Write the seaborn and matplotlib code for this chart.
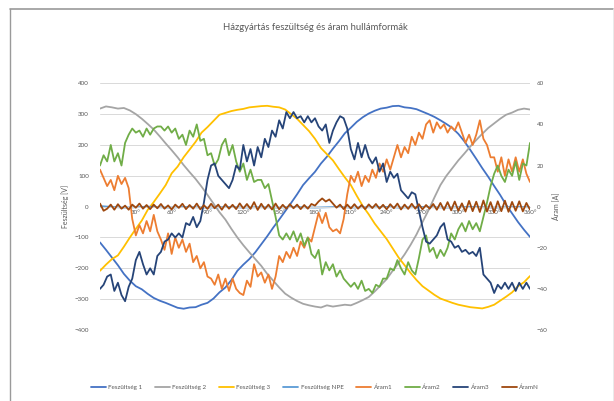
import numpy as np
import pandas as pd
import matplotlib
matplotlib.use("Agg")
import matplotlib.pyplot as plt
from matplotlib.lines import Line2D
import seaborn as sns

# Phase angle grids (degrees)
angle_v = np.arange(0, 361, 5)
angle_i = np.arange(0, 361, 3)
angle_n = np.arange(0, 361, 10)

# Voltages [V]
feszultseg_1 = [-116, -140, -165, -190, -218, -240, -258, -268, -283, -296, -305, -312, -320, -328, -331,
                -327, -326, -318, -312, -298, -278, -262, -238, -208, -188, -170, -148, -122, -96, -68,
                -42, -15, 12, 40, 70, 92, 113, 140, 162, 188, 212, 238, 256, 275, 290, 302, 311, 318,
                321, 326, 327, 322, 320, 316, 308, 300, 291, 280, 268, 255, 236, 212, 184, 155, 125,
                97, 67, 38, 6, -22, -50, -75, -98]
feszultseg_2 = [318, 325, 322, 318, 320, 312, 300, 285, 268, 250, 228, 205, 183, 160, 135, 112, 90, 65,
                38, 10, -18, -42, -72, -100, -125, -148, -170, -192, -218, -240, -262, -282, -295, -306,
                -315, -320, -324, -327, -320, -324, -321, -318, -320, -312, -303, -293, -275, -255, -235,
                -208, -182, -155, -124, -90, -50, -12, 30, 70, 100, 125, 150, 172, 195, 216, 236, 255,
                270, 285, 298, 305, 314, 318, 315]
feszultseg_3 = [-208, -188, -170, -158, -130, -100, -72, -45, -10, 15, 42, 70, 108, 130, 160, 185, 210,
                240, 258, 278, 298, 304, 310, 314, 317, 322, 324, 326, 327, 324, 322, 315, 300, 285, 265,
                245, 220, 190, 170, 150, 122, 95, 70, 35, 2, -25, -55, -80, -105, -135, -165, -190, -215,
                -238, -258, -272, -286, -298, -305, -312, -318, -322, -326, -328, -330, -325, -318, -305,
                -292, -278, -258, -245, -225]
feszultseg_npe = [2, -1, -3, -2, 0, -2, -3, -1, -2, -3, -2, -1, -3, -2, -2, -3, -1, -2, -3, -2, -1, -3,
                  -2, -2, -1, -3, -2, -1, -2, -3, -2, -1, -2, -3, -2, -1, -2]

# Currents [A]
aram_1 = [18, 14, 10, 13, 8, 15, 11, 14, 9, -6, -14, -9, -13, -7, -12, -4, -12, -16, -21, -13, -23,
          -15, -20, -16, -22, -18, -27, -24, -30, -27, -34, -35, -38, -33, -40, -35, -41, -35, -40, -42,
          -43, -36, -39, -28, -34, -32, -37, -33, -40, -34, -24, -27, -22, -25, -20, -24, -17, -20, -15,
          -17, -10, -3, -8, -3, -10, -12, -11, -13, -6, 6, 15, 12, 17, 10, 15, 12, 18, 14, 21, 17, 23,
          18, 24, 30, 24, 29, 26, 34, 30, 36, 33, 40, 42, 36, 41, 38, 40, 36, 39, 37, 41, 36, 31, 35,
          30, 35, 42, 33, 30, 24, 24, 17, 24, 15, 23, 17, 24, 17, 23, 16, 12]
aram_2 = [20, 25, 22, 30, 22, 26, 20, 31, 35, 38, 36, 37, 34, 38, 35, 38, 39, 39, 37, 39, 36, 38, 33,
          35, 30, 37, 34, 40, 32, 33, 25, 26, 20, 23, 30, 33, 25, 30, 22, 17, 21, 13, 18, 12, 13, 13, 9,
          11, 3, -5, -14, -16, -13, -16, -12, -17, -13, -19, -15, -23, -25, -21, -33, -27, -31, -28, -34,
          -31, -35, -37, -39, -37, -40, -36, -41, -40, -42, -38, -39, -35, -35, -30, -31, -26, -30, -33,
          -27, -31, -33, -25, -16, -14, -22, -20, -25, -21, -24, -20, -13, -16, -11, -8, -12, -7, -11,
          -8, -12, -5, 2, 10, 16, 20, 15, 12, 18, 15, 22, 13, 21, 20, 31]
aram_3 = [-40, -38, -34, -33, -41, -37, -43, -46, -39, -35,
          -26, -22, -28, -33, -30, -33, -24, -22, -17, -16,
          -13, -15, -13, -15, -8, -9, -5, -10, -7, 2,
          13, 20, 21, 15, 13, 11, 9, 13, 20, 18,
          30, 22, 28, 20, 29, 24, 33, 29, 37, 34,
          42, 38, 46, 43, 46, 43, 44, 41, 44, 41,
          43, 39, 37, 40, 31, 37, 41, 44, 43, 38,
          28, 23, 31, 24, 30, 24, 21, 24, 17, 21,
          12, 17, 14, 16, 8, 6, 4, 7, 6, -2,
          -10, -17, -18, -16, -14, -10, -8, -16, -17, -20,
          -19, -22, -21, -23, -22, -24, -20, -33, -35, -37,
          -42, -38, -40, -37, -40, -37, -41, -37, -40, -37,
          -40]
aram_n = [1.5, -2, -1, 1, -1.5, 1.2, -1, 0.5, -1.5, 1, -0.5, 1.5, -1, 0.8, -1.2, 1, -0.8, 1.3, -1, 0.6,
          -1.4, 1, -0.6, 1.4, -1.2, 0.8, -1, 1.5, -1.3, 0.7, -1.1, 1.4, -0.8, 1, -1.5, 1.2, -1, 0.9,
          -1.2, 1.6, -0.9, 1.3, -1.1, 2.2, -1.6, 1.4, -1.2, 1, -1.4, 1.5, -1.3, 0.9, -1, 1.2, -0.8, 1,
          -1.2, 0.8, -1, 1.3, 0.5, 2.5, 4, 2.5, 3.5, 1.5, -0.5, 1, -1.2, 1, -0.9, 1.2, -1, 0.8, -1.2,
          1.1, -0.7, 1.3, -1, 0.9, -1.3, 1.2, -0.8, 1.5, -1.4, 1, -1.1, 1.4, -1, 1.2, -1.3, 0.8, -1, 1.3,
          -1.5, 1.8, -1.6, 2.2, -1.8, 2.5, -2, 1.6, -2.4, 2.8, -2.2, 2.4, -2.6, 3, -2.4, 2.2, -2.8, 2.6,
          -2.2, 2.9, -2.5, 2.3, -2, 2.6, -2.3, 1.8, -1.5]

x_ticks = [30, 60, 90, 120, 150, 180, 210, 240, 270, 300, 330, 360]
x_labels = ["30°", "60°", "90°", "120°", "150°", "180°", "210°", "240°", "270°", "300°", "330°", "360°"]

voltage_series = [
    ("Feszültség 1", angle_v, feszultseg_1, "#4472C4"),
    ("Feszültség 2", angle_v, feszultseg_2, "#A5A5A5"),
    ("Feszültség 3", angle_v, feszultseg_3, "#FFC000"),
    ("Feszültség NPE", angle_n, feszultseg_npe, "#5B9BD5"),
]
current_series = [
    ("Áram1", angle_i, aram_1, "#ED7D31"),
    ("Áram2", angle_i, aram_2, "#70AD47"),
    ("Áram3", angle_i, aram_3, "#264478"),
    ("ÁramN", angle_i, aram_n, "#9E480E"),
]

sns.set_theme(style="white")
plt.rcParams["font.family"] = ["Lato", "DejaVu Sans"]
text_col = "#595959"
grid_col = "#D9D9D9"
line_w = 1.3

W, H = 614, 401
fig = plt.figure(figsize=(W / 100, H / 100), dpi=100)
ax = fig.add_axes([100 / W, 1 - 330 / H, 430 / W, (330 - 83.3) / H])

for name, xs, ys, col in voltage_series:
    df = pd.DataFrame({"x": xs, "y": ys})
    sns.lineplot(data=df, x="x", y="y", ax=ax, color=col, lw=line_w, label=name, legend=False)

ax.set_xlim(0, 360)
ax.set_ylim(-400, 400)
ax.set_yticks(range(-400, 401, 100))
ax.yaxis.grid(True, color=grid_col, lw=0.7)
ax.xaxis.grid(False)
ax.set_axisbelow(True)
ax.set_xticks(x_ticks)
ax.set_xticklabels(x_labels)
for s in ["top", "right", "left"]:
    ax.spines[s].set_visible(False)
ax.spines["bottom"].set_position(("data", 0))
ax.spines["bottom"].set_color(grid_col)
ax.spines["bottom"].set_linewidth(0.7)
ax.tick_params(axis="x", length=0, pad=2.5, labelsize=4.5, colors=text_col)
ax.tick_params(axis="y", length=0, pad=8, labelsize=4.5, colors=text_col)
ax.set_xlabel("")
ax.set_ylabel("Feszültség [V]", fontsize=5, color=text_col, labelpad=4)

ax2 = ax.twinx()
for name, xs, ys, col in current_series:
    df = pd.DataFrame({"x": xs, "y": ys})
    sns.lineplot(data=df, x="x", y="y", ax=ax2, color=col, lw=line_w, label=name, legend=False)
ax2.set_xlim(0, 360)
ax2.set_ylim(-60, 60)
ax2.set_yticks(range(-60, 61, 20))
ax2.grid(False)
for s in ["top", "right", "left", "bottom"]:
    ax2.spines[s].set_visible(False)
ax2.tick_params(axis="y", length=0, pad=5, labelsize=4.5, colors=text_col)
ax2.set_ylabel("Áram [A]", fontsize=5, color=text_col, rotation=90, labelpad=3)
ax2.set_xlabel("")

fig.text(315 / W, 1 - 28 / H, "Házgyártás feszültség és áram hullámformák",
         ha="center", va="center", fontsize=6.8, color=text_col)

h1, l1 = ax.get_legend_handles_labels()
h2, l2 = ax2.get_legend_handles_labels()
fig.legend(h1 + h2, l1 + l2, loc="center", bbox_to_anchor=(315 / W, 1 - 387 / H), ncol=8,
           frameon=False, fontsize=4.5, labelcolor=text_col, handlelength=2.4,
           handletextpad=0.4, columnspacing=2.0)

# Chart frame: top and left edges, faint right edge
top_y = 1 - 8.5 / H
fig.add_artist(Line2D([10 / W, 613 / W], [top_y, top_y], transform=fig.transFigure,
                      color="#9A9A9A", lw=1.2))
fig.add_artist(Line2D([10 / W, 10 / W], [0, top_y], transform=fig.transFigure,
                      color="#9A9A9A", lw=1.0))
fig.add_artist(Line2D([612.5 / W, 612.5 / W], [0, top_y], transform=fig.transFigure,
                      color="#E6E6E6", lw=0.6))

fig.savefig("out.png", dpi=100, facecolor="white")
